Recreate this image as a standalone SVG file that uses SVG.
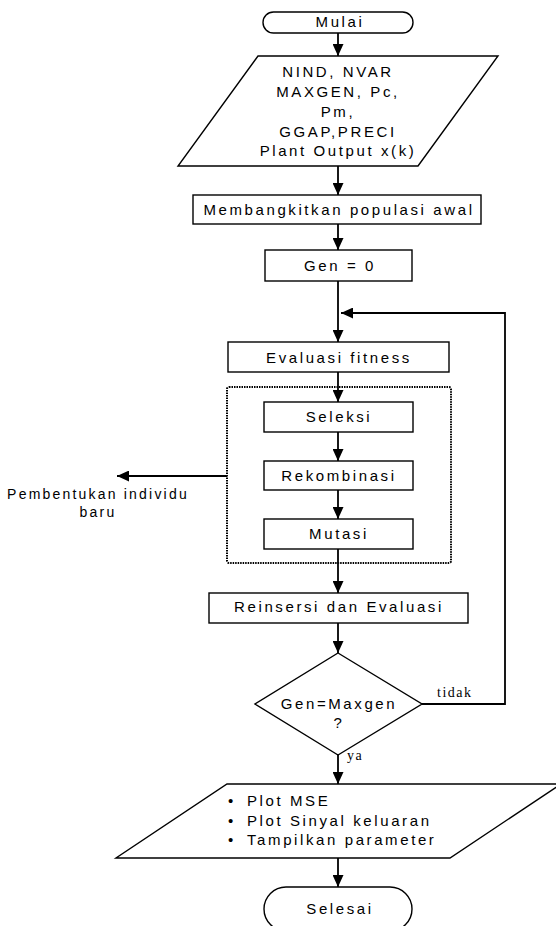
<svg xmlns="http://www.w3.org/2000/svg" width="556" height="926" viewBox="0 0 556 926">
<style>
.shape{fill:#fff;stroke:#000;stroke-width:1.4}
.t{font-family:"Liberation Sans",Arial,sans-serif;font-size:15px;letter-spacing:2.6px;fill:#000;text-anchor:middle}
.lbl{font-family:"Liberation Sans",Arial,sans-serif;font-size:14px;letter-spacing:2.2px;fill:#000;text-anchor:middle}
.ts{font-family:"Liberation Serif","Times New Roman",serif;font-size:14px;letter-spacing:1.5px;fill:#000}
.c{fill:none;stroke:#000;stroke-width:1.8}
.dot{fill:none;stroke:#000;stroke-width:2;stroke-dasharray:1.5 1}
</style>
<defs>
<marker id="ah" markerUnits="userSpaceOnUse" markerWidth="12" markerHeight="11" refX="12" refY="5.5" orient="auto">
<path d="M0,0 L12,5.5 L0,11 z" fill="#000"/>
</marker>
</defs>
<g id="connectors">
<line class="c" x1="338" y1="33" x2="338" y2="56" marker-end="url(#ah)"/>
<line class="c" x1="338" y1="166" x2="338" y2="195" marker-end="url(#ah)"/>
<line class="c" x1="338" y1="224" x2="338" y2="250" marker-end="url(#ah)"/>
<line class="c" x1="338" y1="281" x2="338" y2="342" marker-end="url(#ah)"/>
<polyline class="c" points="422,704 505,704 505,313 341,313" marker-end="url(#ah)"/>
<line class="c" x1="338" y1="372" x2="338" y2="402" marker-end="url(#ah)"/>
<line class="c" x1="338" y1="432" x2="338" y2="461" marker-end="url(#ah)"/>
<line class="c" x1="338" y1="490" x2="338" y2="519" marker-end="url(#ah)"/>
<line class="c" x1="338" y1="549" x2="338" y2="593" marker-end="url(#ah)"/>
<line class="c" x1="227" y1="476" x2="117" y2="476" marker-end="url(#ah)"/>
<line class="c" x1="338" y1="623" x2="338" y2="653" marker-end="url(#ah)"/>
<line class="c" x1="338" y1="755" x2="338" y2="784" marker-end="url(#ah)"/>
<line class="c" x1="338" y1="858" x2="338" y2="887" marker-end="url(#ah)"/>
<text class="ts" x="437" y="697">tidak</text>
<text class="ts" x="347" y="760">ya</text>
</g>
<g id="group-box">
<rect class="dot" x="227" y="387" width="224" height="176" rx="2"/>
</g>
<g id="mulai">
<rect class="shape" x="263" y="12" width="150" height="21" rx="10.5"/>
<text class="t" x="340" y="27">Mulai</text>
</g>
<g id="input">
<polygon class="shape" points="258,56 498,56 418,166 178,166"/>
<text class="t" x="338" y="77">NIND, NVAR</text>
<text class="t" x="338" y="97">MAXGEN, Pc,</text>
<text class="t" x="338" y="117">Pm,</text>
<text class="t" x="338" y="137">GGAP,PRECI</text>
<text class="t" x="338" y="156">Plant Output x(k)</text>
</g>
<g id="init">
<rect class="shape" x="193" y="195" width="288" height="29"/>
<text class="t" x="339" y="215">Membangkitkan populasi awal</text>
</g>
<g id="gen0">
<rect class="shape" x="265" y="250" width="147" height="31"/>
<text class="t" x="340" y="271">Gen = 0</text>
</g>
<g id="eval">
<rect class="shape" x="228" y="342" width="221" height="30"/>
<text class="t" x="339" y="363">Evaluasi fitness</text>
</g>
<g id="seleksi">
<rect class="shape" x="264" y="402" width="149" height="30"/>
<text class="t" x="339" y="422">Seleksi</text>
</g>
<g id="rekombinasi">
<rect class="shape" x="264" y="461" width="149" height="29"/>
<text class="t" x="339" y="481">Rekombinasi</text>
</g>
<g id="mutasi">
<rect class="shape" x="264" y="519" width="149" height="30"/>
<text class="t" x="339" y="539">Mutasi</text>
</g>
<g id="label-pembentukan">
<text class="lbl" x="98" y="499">Pembentukan individu</text>
<text class="lbl" x="98" y="517">baru</text>
</g>
<g id="reinsersi">
<rect class="shape" x="209" y="593" width="259" height="30"/>
<text class="t" x="339" y="612">Reinsersi dan Evaluasi</text>
</g>
<g id="decision">
<polygon class="shape" points="338,653 422,704 338,755 255,704"/>
<text class="t" x="339" y="709">Gen=Maxgen</text>
<text class="t" x="339" y="728">?</text>
</g>
<g id="output">
<polygon class="shape" points="227,784 561,784 450,858 116,858"/>
<text class="t" x="232" y="806">•</text>
<text class="t" x="247" y="806" style="text-anchor:start">Plot MSE</text>
<text class="t" x="232" y="826">•</text>
<text class="t" x="247" y="826" style="text-anchor:start">Plot Sinyal keluaran</text>
<text class="t" x="232" y="845">•</text>
<text class="t" x="247" y="845" style="text-anchor:start">Tampilkan parameter</text>
</g>
<g id="selesai">
<rect class="shape" x="264" y="887" width="148" height="44" rx="22"/>
<text class="t" x="340" y="914">Selesai</text>
</g>
</svg>
